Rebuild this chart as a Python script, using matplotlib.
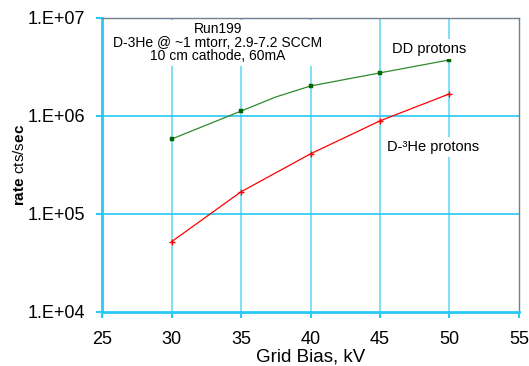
import matplotlib.pyplot as plt
import numpy as np

plt.rcParams['font.family'] = ['Liberation Sans', 'DejaVu Sans']
plt.rcParams['mathtext.fontset'] = 'custom'
plt.rcParams['mathtext.rm'] = 'Liberation Sans'
plt.rcParams['mathtext.bf'] = 'Liberation Sans:bold'

# grid bias (kV) and count rates
bias_dd = [30, 35, 37.5, 40, 45, 50]
rate_dd = [5.8e5, 1.12e6, 1.56e6, 2.02e6, 2.75e6, 3.73e6]
dd_marked = [0, 1, 3, 4, 5]   # 37.5 is a bend in the line without a marker

bias_he3 = [30, 35, 40, 45, 50]
rate_he3 = [5.2e4, 1.68e5, 4.1e5, 8.9e5, 1.68e6]

x_ticks = [25, 30, 35, 40, 45, 50, 55]
y_ticks = [1e4, 1e5, 1e6, 1e7]
y_labels = ['1.E+04', '1.E+05', '1.E+06', '1.E+07']

cyan = '#29c8f5'

fig = plt.figure(figsize=(5.29, 3.66), dpi=100)
ax = fig.add_axes([0.193, 0.148, 0.788, 0.803])

ax.set_yscale('log')
ax.set_xlim(25, 55)
ax.set_ylim(1e4, 1e7)

# grid
for x in x_ticks[1:-1]:
    ax.axvline(x, color='#74dcf8', lw=1.3, zorder=0)
for y in y_ticks[1:-1]:
    ax.axhline(y, color=cyan, lw=1.2, zorder=0)

ax.plot(bias_dd, rate_dd, color='#2e8b2e', lw=0.9, marker='s', ms=2.2,
        mfc='#006400', mec='#006400', mew=0.3, markevery=dd_marked, zorder=3)
ax.plot(bias_he3, rate_he3, color='#ff0000', lw=0.9, marker='+', ms=4.5,
        mew=1.0, zorder=3)

ax.set_xticks(x_ticks)
ax.set_yticks(y_ticks)
ax.set_yticklabels(y_labels)
ax.minorticks_off()
ax.tick_params(axis='both', labelsize=13, color=cyan, width=1.5, length=4, direction='out')
ax.tick_params(axis='x', pad=10)
ax.tick_params(axis='y', pad=8)

for side in ['left', 'bottom']:
    ax.spines[side].set_color(cyan)
    ax.spines[side].set_linewidth(2)
for side in ['top', 'right']:
    ax.spines[side].set_color('#708090')
    ax.spines[side].set_linewidth(1)

ax.set_xlabel('Grid Bias, kV', fontsize=13.5, labelpad=0)
ax.set_ylabel(r'$\mathbf{rate}$ cts/s$\mathbf{ec}$', fontsize=11)
ax.yaxis.set_label_coords(-0.18, 0.5)

ax.text(0.278, 0.985, 'Run199\nD-3He @ ~1 mtorr, 2.9-7.2 SCCM\n10 cm cathode, 60mA',
        transform=ax.transAxes, ha='center', va='top', fontsize=10,
        linespacing=0.95, zorder=5,
        bbox=dict(facecolor='white', edgecolor='none', pad=2))
ax.text(0.695, 0.895, 'DD protons', transform=ax.transAxes, ha='left',
        va='center', fontsize=10.5, zorder=5,
        bbox=dict(facecolor='white', edgecolor='none', pad=2))
ax.text(0.683, 0.56, 'D-³He protons', transform=ax.transAxes, ha='left',
        va='center', fontsize=10.5, zorder=5,
        bbox=dict(facecolor='white', edgecolor='none', pad=2))

fig.savefig('out.png', dpi=100)
